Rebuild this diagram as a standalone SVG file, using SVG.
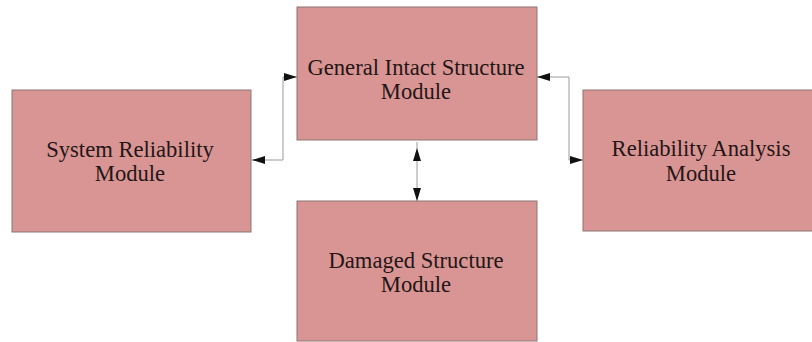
<svg xmlns="http://www.w3.org/2000/svg" width="812" height="342" viewBox="0 0 812 342">
  <style>
    .box { fill: #d99594; stroke: #8c7575; stroke-width: 1; }
    .label { font-family: "Liberation Serif", "Times New Roman", serif; font-size: 22.6px; fill: #241616; text-anchor: middle; }
    .link { fill: none; stroke: #9a9a9a; stroke-width: 1; }
    .head { fill: #111; }
  </style>
  <defs>
    <marker id="arrow" viewBox="0 0 13 8" refX="13" refY="4" markerWidth="13" markerHeight="8" markerUnits="userSpaceOnUse" orient="auto-start-reverse">
      <path class="head" d="M0,0 L13,4 L0,8 Z"/>
    </marker>
  </defs>
  <rect width="812" height="342" fill="#ffffff"/>

  <g id="general-intact-structure">
    <rect class="box" x="297" y="7" width="240" height="133"/>
    <text class="label" x="416" y="75">General Intact Structure</text>
    <text class="label" x="416" y="99">Module</text>
  </g>

  <g id="system-reliability">
    <rect class="box" x="12" y="90" width="239" height="142"/>
    <text class="label" x="130" y="157">System Reliability</text>
    <text class="label" x="130" y="181">Module</text>
  </g>

  <g id="reliability-analysis">
    <rect class="box" x="583" y="90" width="238" height="141"/>
    <text class="label" x="701" y="156">Reliability Analysis</text>
    <text class="label" x="701" y="181">Module</text>
  </g>

  <g id="damaged-structure">
    <rect class="box" x="297" y="201" width="240" height="140"/>
    <text class="label" x="416" y="268">Damaged Structure</text>
    <text class="label" x="416" y="292">Module</text>
  </g>

  <g id="connectors">
    <path class="link" d="M252,160 H283 V77 H297" marker-start="url(#arrow)" marker-end="url(#arrow)"/>
    <path class="link" d="M537,77 H569 V160 H583" marker-start="url(#arrow)" marker-end="url(#arrow)"/>
    <path class="link" d="M417,148 V201" marker-start="url(#arrow)" marker-end="url(#arrow)"/>
    <path class="link" d="M417,142 V148"/>
  </g>
</svg>
